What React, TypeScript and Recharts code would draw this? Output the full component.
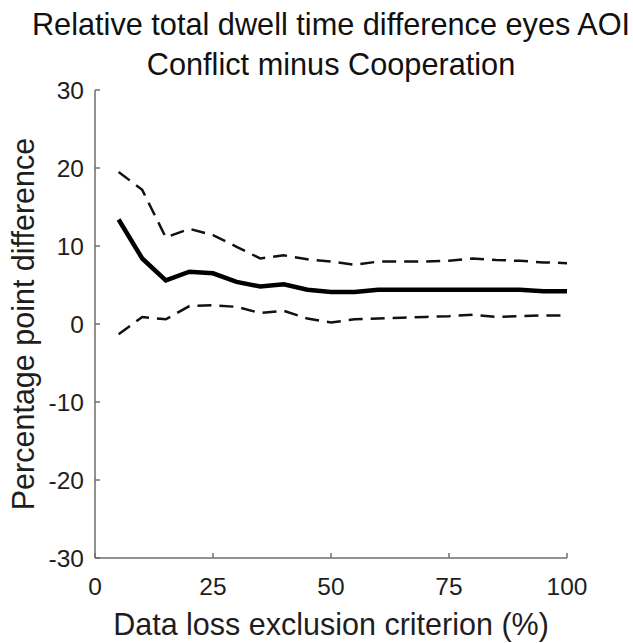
import { LineChart, Line, XAxis, YAxis } from "recharts";

const criterion = [5, 10, 15, 20, 25, 30, 35, 40, 45, 50, 55, 60, 65, 70, 75, 80, 85, 90, 95, 100];
const meanDiff = [13.4, 8.4, 5.6, 6.7, 6.5, 5.4, 4.8, 5.1, 4.4, 4.1, 4.1, 4.4, 4.4, 4.4, 4.4, 4.4, 4.4, 4.4, 4.2, 4.2];
const upperCI = [19.5, 17.2, 11.1, 12.2, 11.4, 9.9, 8.4, 8.8, 8.3, 8.0, 7.6, 8.0, 8.0, 8.0, 8.1, 8.4, 8.2, 8.1, 7.9, 7.8];
const lowerCI = [-1.3, 0.9, 0.6, 2.3, 2.4, 2.2, 1.4, 1.7, 0.7, 0.2, 0.6, 0.7, 0.8, 0.9, 1.0, 1.2, 0.9, 1.0, 1.1, 1.1];

const xTicks = [0, 25, 50, 75, 100];
const yTicks = [-30, -20, -10, 0, 10, 20, 30];

const titleLines = ["Relative total dwell time difference eyes AOI", "Conflict minus Cooperation"];

const data = criterion.map((x, i) => ({
  x,
  mean: meanDiff[i],
  upper: upperCI[i],
  lower: lowerCI[i],
}));

const FONT = '"Liberation Sans", Arial, sans-serif';
const AXIS = "#6e6e6e";
const TEXT = "#1e1e1e";

export default function App() {
  const tick = { fill: TEXT, fontSize: 24.5, fontFamily: FONT };

  return (
    <div style={{ position: "absolute", left: 0, top: 0, width: 633, height: 643, background: "#fff" }}>
      {titleLines.map((t, i) => (
        <div
          key={t}
          style={{
            position: "absolute",
            left: 0,
            width: 662,
            top: 7 + i * 39.5,
            textAlign: "center",
            fontFamily: FONT,
            fontSize: 30.7,
            lineHeight: "36px",
            color: "#111",
            whiteSpace: "nowrap",
          }}
        >
          {t}
        </div>
      ))}
      <LineChart width={633} height={643} data={data} margin={{ top: 90, right: 66, left: 0, bottom: 0 }}>
        <XAxis
          dataKey="x"
          type="number"
          domain={[0, 100]}
          ticks={xTicks}
          height={85}
          tick={tick}
          tickSize={-5}
          tickMargin={25}
          stroke={AXIS}
          strokeWidth={1.5}
          label={{
            value: "Data loss exclusion criterion (%)",
            position: "insideBottom",
            offset: 8,
            style: { fill: TEXT, fontSize: 30.5, fontFamily: FONT },
          }}
        />
        <XAxis
          xAxisId="top"
          orientation="top"
          dataKey="x"
          type="number"
          domain={[0, 100]}
          ticks={xTicks}
          height={0}
          tick={false}
          tickSize={-5}
          stroke={AXIS}
          strokeWidth={1.5}
        />
        <YAxis
          type="number"
          domain={[-30, 30]}
          ticks={yTicks}
          width={95}
          tick={tick}
          tickSize={-5}
          tickMargin={16}
          stroke={AXIS}
          strokeWidth={1.5}
          label={{
            value: "Percentage point difference",
            angle: -90,
            position: "insideLeft",
            offset: 23,
            style: { fill: TEXT, fontSize: 30.5, fontFamily: FONT, textAnchor: "middle" },
          }}
        />
        <YAxis
          yAxisId="right"
          orientation="right"
          type="number"
          domain={[-30, 30]}
          ticks={yTicks}
          width={0}
          tick={false}
          tickSize={-5}
          stroke={AXIS}
          strokeWidth={1.5}
        />
        <Line
          dataKey="upper"
          type="linear"
          stroke="#111"
          strokeWidth={2.5}
          strokeDasharray="14 8"
          dot={false}
          isAnimationActive={false}
        />
        <Line
          dataKey="lower"
          type="linear"
          stroke="#111"
          strokeWidth={2.5}
          strokeDasharray="14 8"
          dot={false}
          isAnimationActive={false}
        />
        <Line
          dataKey="mean"
          type="linear"
          stroke="#000"
          strokeWidth={4.5}
          dot={false}
          isAnimationActive={false}
        />
      </LineChart>
    </div>
  );
}
